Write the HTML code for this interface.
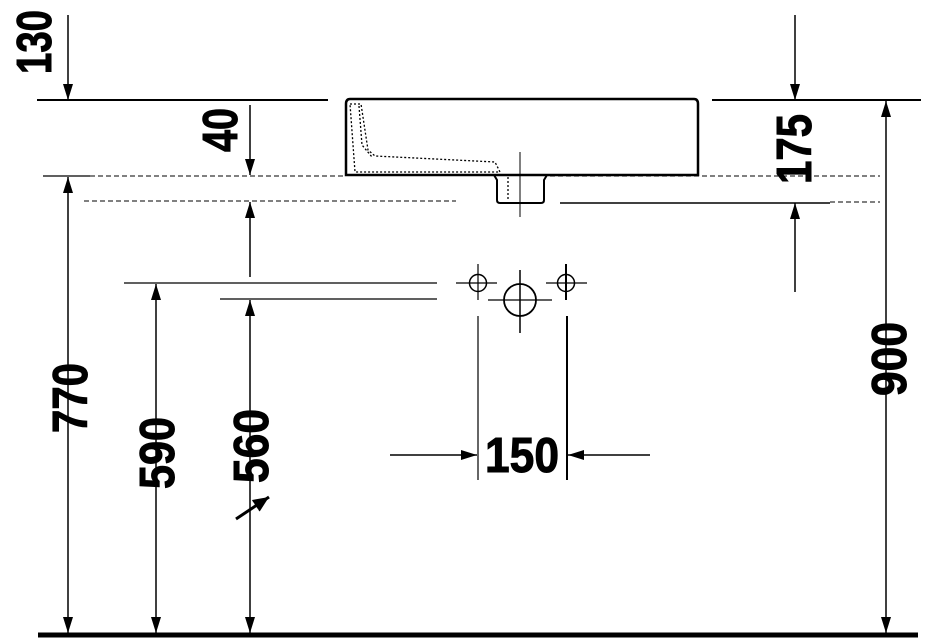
<!DOCTYPE html>
<html><head><meta charset="utf-8"><style>
html,body{margin:0;padding:0;background:#fff;}
svg{display:block;}
text{font-family:"Liberation Sans",sans-serif;font-weight:bold;font-size:49px;fill:#000;stroke:#000;stroke-width:1;}
</style></head><body>
<svg width="925" height="642" viewBox="0 0 925 642" xmlns="http://www.w3.org/2000/svg">
<defs>
<marker id="a" markerWidth="16" markerHeight="10" refX="16" refY="5" orient="auto" markerUnits="userSpaceOnUse">
<path d="M0,0 L16,5 L0,10 Z" fill="#000"/></marker>
<marker id="b" markerWidth="16" markerHeight="14" refX="16" refY="7" orient="auto" markerUnits="userSpaceOnUse">
<path d="M0,0 L16,7 L0,14 Z" fill="#000"/></marker>
</defs>
<g stroke="#000" fill="none">
<line x1="37" y1="100" x2="328" y2="100" stroke-width="2"/>
<line x1="712" y1="100" x2="921" y2="100" stroke-width="2"/>
<line x1="38" y1="635" x2="918" y2="635" stroke-width="5"/>
<path d="M350,99 H694 Q698,99 698,104 V175 H346 V104 Q346,99 350,99 Z" stroke-width="2.5"/>
<path d="M350,104 H361 L368,150 L375,156 L495,162 L500,172 L355,172 Z" stroke-width="1.3" stroke-dasharray="2,2"/>
<path d="M359,106 L362,145 L372,157" stroke-width="1.3" stroke-dasharray="2,2"/>
<path d="M494,175 L497,180 V200 Q497,203 500,203 H541 Q544,203 544,200 V180 L547,175" stroke-width="2"/>
<line x1="508" y1="177" x2="508" y2="200" stroke-width="1.3" stroke-dasharray="2,2"/>
<line x1="520" y1="152" x2="520" y2="217" stroke-width="1"/>
<line x1="43" y1="176" x2="90" y2="176" stroke-width="1.3"/>
<line x1="90" y1="176" x2="345" y2="176" stroke-width="1" stroke-dasharray="5,3"/>
<line x1="550" y1="176" x2="880" y2="176" stroke-width="1" stroke-dasharray="5,3"/>
<line x1="84" y1="201" x2="456" y2="201" stroke-width="1" stroke-dasharray="5,3"/>
<line x1="560" y1="203" x2="830" y2="203" stroke-width="1.5"/>
<line x1="830" y1="202" x2="880" y2="202" stroke-width="1" stroke-dasharray="5,3"/>
<line x1="124" y1="283" x2="437" y2="283" stroke-width="1.3"/>
<line x1="220" y1="299" x2="437" y2="299" stroke-width="1.3"/>
<circle cx="478" cy="283" r="8.5" stroke-width="1.5"/>
<circle cx="566" cy="283" r="8.5" stroke-width="1.5"/>
<circle cx="520" cy="300" r="16" stroke-width="1.8"/>
<line x1="456" y1="283" x2="497" y2="283" stroke-width="1.2"/>
<line x1="546" y1="283" x2="587" y2="283" stroke-width="1.2"/>
<line x1="478" y1="264" x2="478" y2="300" stroke-width="1.2"/>
<line x1="566" y1="264" x2="566" y2="300" stroke-width="2"/>
<line x1="488" y1="300" x2="552" y2="300" stroke-width="1.2"/>
<line x1="520" y1="270" x2="520" y2="333" stroke-width="1.5"/>
<line x1="478" y1="316" x2="478" y2="480" stroke-width="1.2"/>
<line x1="567" y1="316" x2="567" y2="480" stroke-width="2"/>
<g stroke-width="1.5">
<line x1="68" y1="15" x2="68" y2="100" marker-end="url(#a)"/>
<line x1="250" y1="105" x2="250" y2="175" marker-end="url(#a)"/>
<line x1="250" y1="277" x2="250" y2="202" marker-end="url(#a)"/>
<line x1="795" y1="15" x2="795" y2="100" marker-end="url(#a)"/>
<line x1="795" y1="292" x2="795" y2="203" marker-end="url(#a)"/>
<line x1="68" y1="400" x2="68" y2="177" marker-end="url(#a)"/>
<line x1="68" y1="400" x2="68" y2="633" marker-end="url(#a)"/>
<line x1="156" y1="450" x2="156" y2="284" marker-end="url(#a)"/>
<line x1="156" y1="450" x2="156" y2="633" marker-end="url(#a)"/>
<line x1="250" y1="450" x2="250" y2="300" marker-end="url(#a)"/>
<line x1="250" y1="450" x2="250" y2="633" marker-end="url(#a)"/>
<line x1="886" y1="360" x2="886" y2="101" marker-end="url(#a)"/>
<line x1="886" y1="360" x2="886" y2="633" marker-end="url(#a)"/>
<line x1="390" y1="455" x2="477" y2="455" marker-end="url(#a)"/>
<line x1="650" y1="455" x2="568" y2="455" marker-end="url(#a)"/>
<line x1="236" y1="519" x2="269" y2="497" stroke-width="3" marker-end="url(#b)"/>
</g>
</g>
<text transform="translate(51,74) rotate(-90)" textLength="64" lengthAdjust="spacingAndGlyphs">130</text>
<text transform="translate(237,152) rotate(-90)" textLength="44" lengthAdjust="spacingAndGlyphs">40</text>
<text transform="translate(811,184) rotate(-90)" textLength="70" lengthAdjust="spacingAndGlyphs">175</text>
<text transform="translate(87,433) rotate(-90)" textLength="70" lengthAdjust="spacingAndGlyphs">770</text>
<text transform="translate(174,489) rotate(-90)" textLength="72" lengthAdjust="spacingAndGlyphs">590</text>
<text transform="translate(268,483) rotate(-90)" textLength="74" lengthAdjust="spacingAndGlyphs">560</text>
<text transform="translate(906,396) rotate(-90)" textLength="74" lengthAdjust="spacingAndGlyphs">900</text>
<text x="485" y="472" textLength="74" lengthAdjust="spacingAndGlyphs">150</text>
</svg>
</body></html>
